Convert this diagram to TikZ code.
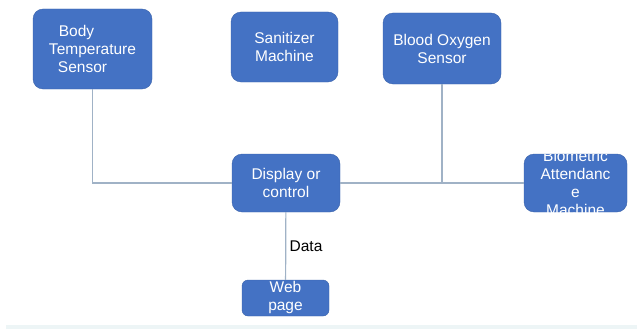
\documentclass[tikz,border=0pt]{standalone}
\usepackage{fontspec}
\setmainfont{Liberation Sans}
\usetikzlibrary{positioning}
\definecolor{boxblue}{HTML}{4472C4}
\definecolor{boxedge}{HTML}{3A62AA}
\definecolor{wirecol}{HTML}{A0B2C6}
\definecolor{stripcol}{HTML}{EDF5F6}
\begin{document}
\begin{tikzpicture}[x=1pt,y=-1pt,
  box/.style={draw=boxedge,fill=boxblue,text=white,rounded corners=10pt,align=center,inner sep=0pt,font=\fontsize{15.5}{18}\selectfont},
  boxtext/.style={text=white,align=center,inner sep=0pt,font=\fontsize{15.5}{18}\selectfont},
  wire/.style={draw=wirecol,line width=1.2pt}]
\useasboundingbox (0,0) rectangle (637,329);
\fill[stripcol] (6,325) rectangle (637,329);

\node[box,minimum width=119pt,minimum height=80pt] (1) at (92.5,49) {Body\hspace*{32pt}\\Temperature\\Sensor\hspace*{20pt}};
\node[box,minimum width=107pt,minimum height=70pt] (2) at (284.5,47) {Sanitizer\\Machine};
\node[box,minimum width=118pt,minimum height=71pt] (3) at (442,48.5) {Blood Oxygen\\Sensor};
\node[box,minimum width=108pt,minimum height=58pt] (5) at (286,183) {Display or\\control};
\node[box,minimum width=103pt,minimum height=58pt] (6) at (575.5,183) {};
\node[box,minimum width=87pt,minimum height=36pt,rounded corners=6pt] (7) at (285.5,298) {};

% text that runs past the box edges
\begin{scope}
\clip[rounded corners=10pt] (6.south west) rectangle (6.north east);
\node[boxtext] at (6.center) {Biometric\\Attendanc\\e\\Machine};
\end{scope}
\begin{scope}
\clip[rounded corners=6pt] (7.south west) rectangle (7.north east);
\node[boxtext] at ([yshift=0.5pt]7.center) {Web\\page};
\end{scope}

\draw[wire] (1) |- (5);
\draw[wire] (3) |- (5);
\draw[wire] (5) -- (6);
\draw[wire] (5) to node [right,text=black,font=\fontsize{15.5}{18}\selectfont] {Data} (7);
\end{tikzpicture}
\end{document}
